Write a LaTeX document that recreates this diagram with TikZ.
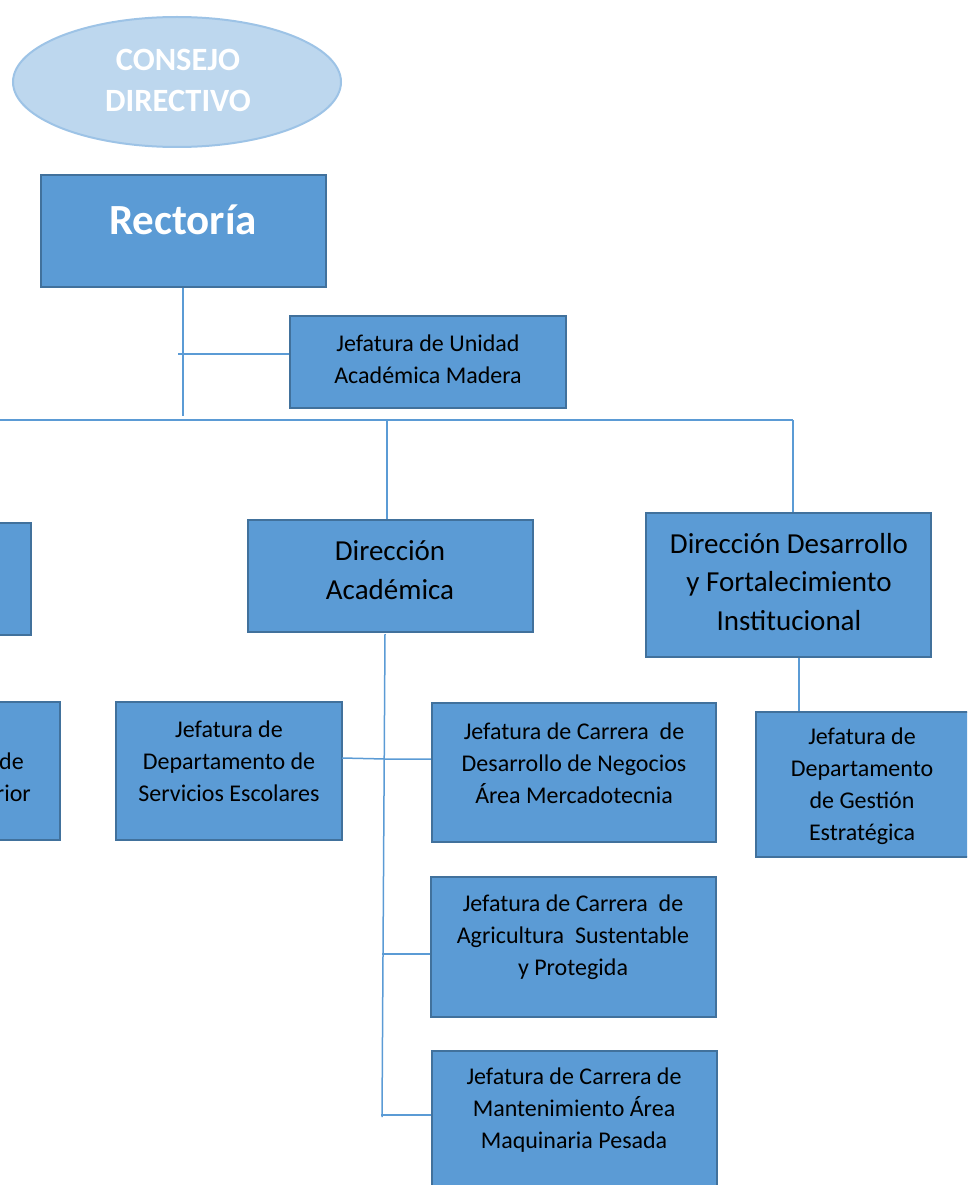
\documentclass[tikz,border=0pt]{standalone}
\usepackage{fontspec}
\setmainfont{Carlito}
\usetikzlibrary{shapes.geometric}
\definecolor{boxfill}{HTML}{5B9BD5}
\definecolor{boxline}{HTML}{41719C}
\definecolor{ellfill}{HTML}{BDD7EE}
\definecolor{ellline}{HTML}{9DC3E6}
\definecolor{connc}{HTML}{5B9BD5}
\tikzset{
  orgbox/.style={draw=boxline, fill=boxfill, line width=2.2pt, inner sep=0pt},
  smalltxt/.style={align=center, inner sep=0pt, text=black, font=\fontsize{24}{32}\selectfont},
  dirtxt/.style={align=center, inner sep=0pt, text=black, font=\fontsize{29}{38.5}\selectfont},
  conn/.style={draw=connc, line width=1.5pt},
}
\begin{document}
\begin{tikzpicture}[x=1pt,y=-1pt]
\useasboundingbox (0,0) rectangle (967,1185);
\clip (0,0) rectangle (967,1185);
% Consejo
\node[ellipse, draw=ellline, fill=ellfill, line width=2pt, minimum width=328, minimum height=130, inner sep=0pt] (consejo) at (177,82) {};
\node[align=center, inner sep=0pt, text=white, font=\bfseries\fontsize{32.5}{41}\selectfont] (consejot) at (178,80) {CONSEJO\\DIRECTIVO};
% Rectoria
\node[orgbox, minimum width=285, minimum height=112] (rect) at (183.5,231) {};
\node[inner sep=0pt, text=white, font=\bfseries\fontsize{43}{50}\selectfont] (rectt) at (183,220) {Rectoría};
% Madera
\node[orgbox, minimum width=276, minimum height=92] (madera) at (428,362) {};
\node[smalltxt] (maderat) at (428,359) {Jefatura de Unidad\\Académica Madera};
% left boxes (cut)
\node[orgbox, minimum width=285, minimum height=112] (left1) at (-111.5,579) {};
\node[orgbox, minimum width=226, minimum height=138] (left2) at (-53,771) {};
\node[smalltxt, anchor=base east] (left2a) at (24,769) {de};
\node[smalltxt, anchor=base east] (left2b) at (31,801) {rior};
% Direccion Academica
\node[orgbox, minimum width=285, minimum height=112] (diracad) at (390.5,576) {};
\node[dirtxt] (diracadt) at (390,570) {Dirección\\Académica};
% Direccion Desarrollo
\node[orgbox, minimum width=285, minimum height=144] (dirdes) at (788.5,585) {};
\node[dirtxt] (dirdest) at (789,582) {Dirección Desarrollo\\y Fortalecimiento\\Institucional};
% Gestion
\node[orgbox, minimum width=214, minimum height=145] (gest) at (863,784.5) {};
\node[smalltxt] (gestt) at (862,786.5) {Jefatura de\\Departamento\\de Gestión\\Estratégica};
% Escolares
\node[orgbox, minimum width=226, minimum height=138] (esc) at (229,771) {};
\node[smalltxt] (esct) at (229,761) {Jefatura de\\Departamento de\\Servicios Escolares};
% Mercadotecnia
\node[orgbox, minimum width=284, minimum height=139] (merc) at (574,772.5) {};
\node[smalltxt] (merct) at (574,763) {Jefatura de Carrera\ \ de\\Desarrollo de Negocios\\Área Mercadotecnia};
% Agricultura
\node[orgbox, minimum width=285, minimum height=140] (agri) at (573.5,947) {};
\node[smalltxt] (agrit) at (573,937) {Jefatura de Carrera\ \ de\\Agricultura\ \ Sustentable\\y Protegida};
% Mantenimiento
\node[orgbox, minimum width=285, minimum height=140] (mant) at (574.5,1121) {};
\node[smalltxt] (mantt) at (574,1110) {Jefatura de Carrera de\\Mantenimiento Área\\Maquinaria Pesada};
% connectors
\coordinate (r1) at (183,416);
\draw[conn] (rect.south -| r1) -- (r1);
\coordinate (m1) at (178,354);
\draw[conn] (m1) -- (m1 -| madera.west);
\coordinate (busL) at (-5,420);
\coordinate (busR) at (793,420);
\coordinate (busA) at (387,420);
\draw[conn] (busL) -- (busR);
\draw[conn] (busA) -- (busA |- diracad.north);
\draw[conn] (busR) -- (busR |- dirdes.north);
\coordinate (g1) at (799,700);
\draw[conn] (g1 |- dirdes.south) -- (g1 |- gest.north);
\coordinate (t1) at (385,634);
\coordinate (t2) at (382,1117);
\draw[conn] (t1) -- (t2);
\coordinate (e1) at (342,758);
\coordinate (e2) at (385,759);
\draw[conn] (e1) -- (e2) -- (e2 -| merc.west);
\coordinate (a1) at (382,954);
\draw[conn] (a1) -- (a1 -| agri.west);
\coordinate (n1) at (381,1115);
\draw[conn] (n1) -- (n1 -| mant.west);
\end{tikzpicture}
\end{document}
